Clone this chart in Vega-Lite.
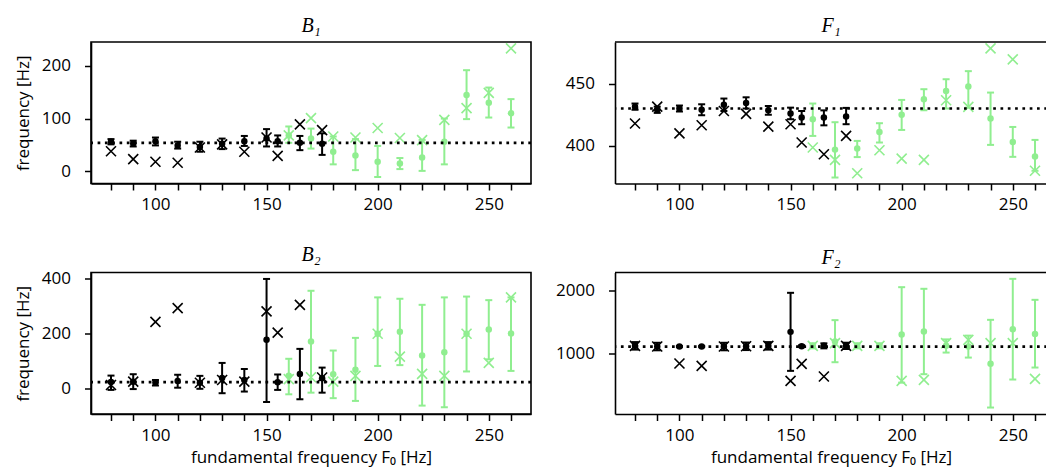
{
  "$schema": "https://vega.github.io/schema/vega-lite/v6.json",
  "background": "#ffffff",
  "padding": {"left": 13, "top": 15, "right": 0, "bottom": 0},
  "datasets": {
    "pts": [
      {"panel":"B1","f0":80,"grp":"k","mean":56,"lo":51,"hi":61,"cross":38},
      {"panel":"B1","f0":90,"grp":"k","mean":52.5,"lo":47,"hi":58,"cross":23},
      {"panel":"B1","f0":100,"grp":"k","mean":57,"lo":49,"hi":64,"cross":18},
      {"panel":"B1","f0":110,"grp":"k","mean":49,"lo":43,"hi":56,"cross":16},
      {"panel":"B1","f0":120,"grp":"k","mean":46,"lo":37,"hi":56,"cross":45},
      {"panel":"B1","f0":130,"grp":"k","mean":52,"lo":42,"hi":62,"cross":51},
      {"panel":"B1","f0":140,"grp":"k","mean":57,"lo":48,"hi":67,"cross":37},
      {"panel":"B1","f0":150,"grp":"k","mean":62,"lo":47,"hi":80,"cross":64},
      {"panel":"B1","f0":155,"grp":"k","mean":57,"lo":47,"hi":68,"cross":29},
      {"panel":"B1","f0":160,"grp":"g","mean":68,"lo":54,"hi":85,"cross":68},
      {"panel":"B1","f0":165,"grp":"k","mean":54,"lo":40,"hi":67,"cross":89},
      {"panel":"B1","f0":170,"grp":"g","mean":62,"lo":43,"hi":81,"cross":101},
      {"panel":"B1","f0":175,"grp":"k","mean":52,"lo":31,"hi":72,"cross":78},
      {"panel":"B1","f0":180,"grp":"g","mean":37,"lo":13,"hi":66,"cross":66},
      {"panel":"B1","f0":190,"grp":"g","mean":30,"lo":2,"hi":61,"cross":64},
      {"panel":"B1","f0":200,"grp":"g","mean":18,"lo":-11,"hi":48,"cross":82},
      {"panel":"B1","f0":210,"grp":"g","mean":14.6,"lo":4,"hi":25,"cross":63},
      {"panel":"B1","f0":220,"grp":"g","mean":26,"lo":0.6,"hi":59.5,"cross":59},
      {"panel":"B1","f0":230,"grp":"g","mean":56,"lo":13,"hi":100,"cross":97.5},
      {"panel":"B1","f0":240,"grp":"g","mean":145,"lo":99,"hi":192,"cross":120},
      {"panel":"B1","f0":250,"grp":"g","mean":130,"lo":102,"hi":159,"cross":149},
      {"panel":"B1","f0":260,"grp":"g","mean":110,"lo":83,"hi":137,"cross":233.5},

      {"panel":"F1","f0":80,"grp":"k","mean":431.5,"lo":429,"hi":434,"cross":418},
      {"panel":"F1","f0":90,"grp":"k","mean":429,"lo":426.5,"hi":431.5,"cross":431.5},
      {"panel":"F1","f0":100,"grp":"k","mean":430,"lo":427.6,"hi":432.4,"cross":410},
      {"panel":"F1","f0":110,"grp":"k","mean":429,"lo":424.6,"hi":433.4,"cross":416.6},
      {"panel":"F1","f0":120,"grp":"k","mean":433,"lo":428,"hi":438,"cross":428},
      {"panel":"F1","f0":130,"grp":"k","mean":434.5,"lo":430,"hi":439,"cross":425.7},
      {"panel":"F1","f0":140,"grp":"k","mean":428.6,"lo":425,"hi":432,"cross":415.5},
      {"panel":"F1","f0":150,"grp":"k","mean":426,"lo":421.4,"hi":430.7,"cross":417.4},
      {"panel":"F1","f0":155,"grp":"k","mean":422.7,"lo":417.4,"hi":428,"cross":402.7},
      {"panel":"F1","f0":160,"grp":"g","mean":421.4,"lo":408,"hi":434,"cross":398.7},
      {"panel":"F1","f0":165,"grp":"k","mean":422.7,"lo":416.5,"hi":428.5,"cross":393.3},
      {"panel":"F1","f0":170,"grp":"g","mean":397,"lo":374.6,"hi":419,"cross":388.8},
      {"panel":"F1","f0":175,"grp":"k","mean":423.5,"lo":417.4,"hi":430.5,"cross":408},
      {"panel":"F1","f0":180,"grp":"g","mean":397.9,"lo":391,"hi":404,"cross":378},
      {"panel":"F1","f0":190,"grp":"g","mean":411.2,"lo":402.7,"hi":418.2,"cross":396.5},
      {"panel":"F1","f0":200,"grp":"g","mean":425,"lo":412.8,"hi":436.9,"cross":389.8},
      {"panel":"F1","f0":210,"grp":"g","mean":437.4,"lo":428.6,"hi":445.5,"cross":388.8},
      {"panel":"F1","f0":220,"grp":"g","mean":444,"lo":430,"hi":453.5,"cross":436.6},
      {"panel":"F1","f0":230,"grp":"g","mean":447.6,"lo":430.7,"hi":460,"cross":431.3},
      {"panel":"F1","f0":240,"grp":"g","mean":422,"lo":400.8,"hi":442.8,"cross":478.3},
      {"panel":"F1","f0":250,"grp":"g","mean":403.2,"lo":391.2,"hi":415.2,"cross":469.5},
      {"panel":"F1","f0":260,"grp":"g","mean":391.4,"lo":380,"hi":404.8,"cross":380},

      {"panel":"B2","f0":80,"grp":"k","mean":23,"lo":-6,"hi":46,"cross":12},
      {"panel":"B2","f0":90,"grp":"k","mean":24,"lo":-3,"hi":51,"cross":24},
      {"panel":"B2","f0":100,"grp":"k","mean":20.6,"lo":10,"hi":30,"cross":241},
      {"panel":"B2","f0":110,"grp":"k","mean":26.7,"lo":2,"hi":49,"cross":291},
      {"panel":"B2","f0":120,"grp":"k","mean":20,"lo":-2,"hi":45,"cross":20},
      {"panel":"B2","f0":130,"grp":"k","mean":37,"lo":-18,"hi":92,"cross":30},
      {"panel":"B2","f0":140,"grp":"k","mean":30,"lo":-12,"hi":70,"cross":24},
      {"panel":"B2","f0":150,"grp":"k","mean":176,"lo":-50,"hi":397,"cross":279},
      {"panel":"B2","f0":155,"grp":"k","mean":22,"lo":-6,"hi":50,"cross":202},
      {"panel":"B2","f0":160,"grp":"g","mean":45,"lo":-22,"hi":107,"cross":33},
      {"panel":"B2","f0":165,"grp":"k","mean":52,"lo":-40,"hi":143,"cross":303},
      {"panel":"B2","f0":170,"grp":"g","mean":170,"lo":-16,"hi":354,"cross":40},
      {"panel":"B2","f0":175,"grp":"k","mean":36,"lo":-16,"hi":75,"cross":39},
      {"panel":"B2","f0":180,"grp":"g","mean":51,"lo":-36,"hi":137,"cross":24},
      {"panel":"B2","f0":190,"grp":"g","mean":67,"lo":-46,"hi":183,"cross":45},
      {"panel":"B2","f0":200,"grp":"g","mean":198,"lo":81,"hi":330,"cross":198},
      {"panel":"B2","f0":210,"grp":"g","mean":205,"lo":84,"hi":325,"cross":115},
      {"panel":"B2","f0":220,"grp":"g","mean":119,"lo":-63,"hi":303,"cross":52},
      {"panel":"B2","f0":230,"grp":"g","mean":131,"lo":-69,"hi":330,"cross":45},
      {"panel":"B2","f0":240,"grp":"g","mean":198,"lo":61,"hi":333,"cross":198},
      {"panel":"B2","f0":250,"grp":"g","mean":213,"lo":105,"hi":320,"cross":92},
      {"panel":"B2","f0":260,"grp":"g","mean":199,"lo":63,"hi":330,"cross":330},

      {"panel":"F2","f0":80,"grp":"k","mean":1117,"lo":1057,"hi":1177,"cross":1117},
      {"panel":"F2","f0":90,"grp":"k","mean":1106,"lo":1046,"hi":1166,"cross":1106},
      {"panel":"F2","f0":100,"grp":"k","mean":1106,"lo":1096,"hi":1116,"cross":835},
      {"panel":"F2","f0":110,"grp":"k","mean":1106,"lo":1096,"hi":1116,"cross":798},
      {"panel":"F2","f0":120,"grp":"k","mean":1106,"lo":1046,"hi":1166,"cross":1106},
      {"panel":"F2","f0":130,"grp":"k","mean":1110,"lo":1050,"hi":1170,"cross":1110},
      {"panel":"F2","f0":140,"grp":"k","mean":1117,"lo":1057,"hi":1177,"cross":1117},
      {"panel":"F2","f0":150,"grp":"k","mean":1340,"lo":718,"hi":1963,"cross":558},
      {"panel":"F2","f0":155,"grp":"k","mean":1112,"lo":1097,"hi":1127,"cross":830},
      {"panel":"F2","f0":160,"grp":"g","mean":1117,"lo":1077,"hi":1157,"cross":1117},
      {"panel":"F2","f0":165,"grp":"k","mean":1117,"lo":1077,"hi":1157,"cross":628},
      {"panel":"F2","f0":170,"grp":"g","mean":1186,"lo":856,"hi":1527,"cross":1160},
      {"panel":"F2","f0":175,"grp":"k","mean":1117,"lo":1067,"hi":1167,"cross":1117},
      {"panel":"F2","f0":180,"grp":"g","mean":1117,"lo":1077,"hi":1157,"cross":1117},
      {"panel":"F2","f0":190,"grp":"g","mean":1117,"lo":1077,"hi":1157,"cross":1117},
      {"panel":"F2","f0":200,"grp":"g","mean":1298,"lo":530,"hi":2053,"cross":558},
      {"panel":"F2","f0":210,"grp":"g","mean":1346,"lo":665,"hi":2027,"cross":574},
      {"panel":"F2","f0":220,"grp":"g","mean":1117,"lo":1010,"hi":1220,"cross":1160},
      {"panel":"F2","f0":230,"grp":"g","mean":1106,"lo":930,"hi":1280,"cross":1213},
      {"panel":"F2","f0":240,"grp":"g","mean":830,"lo":133,"hi":1532,"cross":1160},
      {"panel":"F2","f0":250,"grp":"g","mean":1383,"lo":580,"hi":2186,"cross":1160},
      {"panel":"F2","f0":260,"grp":"g","mean":1308,"lo":771,"hi":1851,"cross":590}
    ],
    "refs": [
      {"panel":"B1","ref":54,"top":245.6},
      {"panel":"F1","ref":430,"top":483.4},
      {"panel":"B2","ref":22,"top":420.4},
      {"panel":"F2","ref":1106,"top":2287}
    ]
  },
  "columns": 2,
  "spacing": {"row": 88.5, "column": 84},
  "bounds": "flush",
  "concat": [
    {
      "width": 440, "height": 141.5,
      "title": "B₁",
      "layer": [
        {"data": {"name": "pts"}, "transform": [{"filter": {"field": "panel", "equal": "B1"}}],
         "mark": {"type": "rule", "strokeWidth": 2},
         "encoding": {
           "x": {"field": "f0", "type": "quantitative", "scale": {"domain": [71, 269], "nice": false, "zero": false}, "axis": {"values": [80,90,100,110,120,130,140,150,160,170,180,190,200,210,220,230,240,250,260], "labelExpr": "datum.value % 50 === 0 ? datum.label : ''", "format": "d", "title": null}},
           "y": {"field": "lo", "type": "quantitative", "scale": {"domain": [-23.4, 245.6], "nice": false, "zero": false}, "axis": {"values": [0,100,200], "format": "d", "title": "frequency [Hz]"}},
           "y2": {"field": "hi"},
           "color": {"field": "grp", "type": "nominal", "scale": {"domain": ["k","g"], "range": ["#000000","#90ee90"]}, "legend": null}}},
        {"data": {"name": "pts"}, "transform": [{"filter": {"field": "panel", "equal": "B1"}}],
         "mark": {"type": "tick", "orient": "horizontal", "size": 7, "thickness": 2, "opacity": 1},
         "encoding": {
           "x": {"field": "f0", "type": "quantitative", "scale": {"domain": [71, 269], "nice": false, "zero": false}, "axis": {"values": [80,90,100,110,120,130,140,150,160,170,180,190,200,210,220,230,240,250,260], "labelExpr": "datum.value % 50 === 0 ? datum.label : ''", "format": "d", "title": null}},
           "y": {"field": "lo", "type": "quantitative", "scale": {"domain": [-23.4, 245.6], "nice": false, "zero": false}, "axis": {"values": [0,100,200], "format": "d", "title": "frequency [Hz]"}},
           "color": {"field": "grp", "type": "nominal", "scale": {"domain": ["k","g"], "range": ["#000000","#90ee90"]}, "legend": null}}},
        {"data": {"name": "pts"}, "transform": [{"filter": {"field": "panel", "equal": "B1"}}],
         "mark": {"type": "tick", "orient": "horizontal", "size": 7, "thickness": 2, "opacity": 1},
         "encoding": {
           "x": {"field": "f0", "type": "quantitative", "scale": {"domain": [71, 269], "nice": false, "zero": false}, "axis": {"values": [80,90,100,110,120,130,140,150,160,170,180,190,200,210,220,230,240,250,260], "labelExpr": "datum.value % 50 === 0 ? datum.label : ''", "format": "d", "title": null}},
           "y": {"field": "hi", "type": "quantitative", "scale": {"domain": [-23.4, 245.6], "nice": false, "zero": false}, "axis": {"values": [0,100,200], "format": "d", "title": "frequency [Hz]"}},
           "color": {"field": "grp", "type": "nominal", "scale": {"domain": ["k","g"], "range": ["#000000","#90ee90"]}, "legend": null}}},
        {"data": {"name": "pts"}, "transform": [{"filter": {"field": "panel", "equal": "B1"}}],
         "mark": {"type": "point", "shape": "circle", "filled": true, "size": 42, "opacity": 1},
         "encoding": {
           "x": {"field": "f0", "type": "quantitative", "scale": {"domain": [71, 269], "nice": false, "zero": false}, "axis": {"values": [80,90,100,110,120,130,140,150,160,170,180,190,200,210,220,230,240,250,260], "labelExpr": "datum.value % 50 === 0 ? datum.label : ''", "format": "d", "title": null}},
           "y": {"field": "mean", "type": "quantitative", "scale": {"domain": [-23.4, 245.6], "nice": false, "zero": false}, "axis": {"values": [0,100,200], "format": "d", "title": "frequency [Hz]"}},
           "color": {"field": "grp", "type": "nominal", "scale": {"domain": ["k","g"], "range": ["#000000","#90ee90"]}, "legend": null}}},
        {"data": {"name": "pts"}, "transform": [{"filter": {"field": "panel", "equal": "B1"}}],
         "mark": {"type": "point", "shape": "M-1,-1L1,1M-1,1L1,-1", "filled": false, "size": 100, "strokeWidth": 1.6, "opacity": 1},
         "encoding": {
           "x": {"field": "f0", "type": "quantitative", "scale": {"domain": [71, 269], "nice": false, "zero": false}, "axis": {"values": [80,90,100,110,120,130,140,150,160,170,180,190,200,210,220,230,240,250,260], "labelExpr": "datum.value % 50 === 0 ? datum.label : ''", "format": "d", "title": null}},
           "y": {"field": "cross", "type": "quantitative", "scale": {"domain": [-23.4, 245.6], "nice": false, "zero": false}, "axis": {"values": [0,100,200], "format": "d", "title": "frequency [Hz]"}},
           "color": {"field": "grp", "type": "nominal", "scale": {"domain": ["k","g"], "range": ["#000000","#90ee90"]}, "legend": null}}},
        {"data": {"name": "refs"}, "transform": [{"filter": {"field": "panel", "equal": "B1"}}],
         "mark": {"type": "rule", "color": "#000000", "strokeWidth": 2.7, "strokeDash": [2.7, 4.6]},
         "encoding": {
           "y": {"field": "ref", "type": "quantitative", "scale": {"domain": [-23.4, 245.6], "nice": false, "zero": false}, "axis": {"values": [0,100,200], "format": "d", "title": "frequency [Hz]"}}}}
      ]
    },
    {
      "width": 432, "height": 141.5,
      "title": "F₁",
      "view": {"stroke": null},
      "layer": [
        {"data": {"name": "pts"}, "transform": [{"filter": {"field": "panel", "equal": "F1"}}],
         "mark": {"type": "rule", "strokeWidth": 2},
         "encoding": {
           "x": {"field": "f0", "type": "quantitative", "scale": {"domain": [71, 265.4], "nice": false, "zero": false}, "axis": {"values": [80,90,100,110,120,130,140,150,160,170,180,190,200,210,220,230,240,250,260], "labelExpr": "datum.value % 50 === 0 ? datum.label : ''", "format": "d", "title": null}},
           "y": {"field": "lo", "type": "quantitative", "scale": {"domain": [369.8, 483.4], "nice": false, "zero": false}, "axis": {"values": [400,450], "format": "d", "title": null}},
           "y2": {"field": "hi"},
           "color": {"field": "grp", "type": "nominal", "scale": {"domain": ["k","g"], "range": ["#000000","#90ee90"]}, "legend": null}}},
        {"data": {"name": "pts"}, "transform": [{"filter": {"field": "panel", "equal": "F1"}}],
         "mark": {"type": "tick", "orient": "horizontal", "size": 7, "thickness": 2, "opacity": 1},
         "encoding": {
           "x": {"field": "f0", "type": "quantitative", "scale": {"domain": [71, 265.4], "nice": false, "zero": false}, "axis": {"values": [80,90,100,110,120,130,140,150,160,170,180,190,200,210,220,230,240,250,260], "labelExpr": "datum.value % 50 === 0 ? datum.label : ''", "format": "d", "title": null}},
           "y": {"field": "lo", "type": "quantitative", "scale": {"domain": [369.8, 483.4], "nice": false, "zero": false}, "axis": {"values": [400,450], "format": "d", "title": null}},
           "color": {"field": "grp", "type": "nominal", "scale": {"domain": ["k","g"], "range": ["#000000","#90ee90"]}, "legend": null}}},
        {"data": {"name": "pts"}, "transform": [{"filter": {"field": "panel", "equal": "F1"}}],
         "mark": {"type": "tick", "orient": "horizontal", "size": 7, "thickness": 2, "opacity": 1},
         "encoding": {
           "x": {"field": "f0", "type": "quantitative", "scale": {"domain": [71, 265.4], "nice": false, "zero": false}, "axis": {"values": [80,90,100,110,120,130,140,150,160,170,180,190,200,210,220,230,240,250,260], "labelExpr": "datum.value % 50 === 0 ? datum.label : ''", "format": "d", "title": null}},
           "y": {"field": "hi", "type": "quantitative", "scale": {"domain": [369.8, 483.4], "nice": false, "zero": false}, "axis": {"values": [400,450], "format": "d", "title": null}},
           "color": {"field": "grp", "type": "nominal", "scale": {"domain": ["k","g"], "range": ["#000000","#90ee90"]}, "legend": null}}},
        {"data": {"name": "pts"}, "transform": [{"filter": {"field": "panel", "equal": "F1"}}],
         "mark": {"type": "point", "shape": "circle", "filled": true, "size": 42, "opacity": 1},
         "encoding": {
           "x": {"field": "f0", "type": "quantitative", "scale": {"domain": [71, 265.4], "nice": false, "zero": false}, "axis": {"values": [80,90,100,110,120,130,140,150,160,170,180,190,200,210,220,230,240,250,260], "labelExpr": "datum.value % 50 === 0 ? datum.label : ''", "format": "d", "title": null}},
           "y": {"field": "mean", "type": "quantitative", "scale": {"domain": [369.8, 483.4], "nice": false, "zero": false}, "axis": {"values": [400,450], "format": "d", "title": null}},
           "color": {"field": "grp", "type": "nominal", "scale": {"domain": ["k","g"], "range": ["#000000","#90ee90"]}, "legend": null}}},
        {"data": {"name": "pts"}, "transform": [{"filter": {"field": "panel", "equal": "F1"}}],
         "mark": {"type": "point", "shape": "M-1,-1L1,1M-1,1L1,-1", "filled": false, "size": 100, "strokeWidth": 1.6, "opacity": 1},
         "encoding": {
           "x": {"field": "f0", "type": "quantitative", "scale": {"domain": [71, 265.4], "nice": false, "zero": false}, "axis": {"values": [80,90,100,110,120,130,140,150,160,170,180,190,200,210,220,230,240,250,260], "labelExpr": "datum.value % 50 === 0 ? datum.label : ''", "format": "d", "title": null}},
           "y": {"field": "cross", "type": "quantitative", "scale": {"domain": [369.8, 483.4], "nice": false, "zero": false}, "axis": {"values": [400,450], "format": "d", "title": null}},
           "color": {"field": "grp", "type": "nominal", "scale": {"domain": ["k","g"], "range": ["#000000","#90ee90"]}, "legend": null}}},
        {"data": {"name": "refs"}, "transform": [{"filter": {"field": "panel", "equal": "F1"}}],
         "mark": {"type": "rule", "color": "#000000", "strokeWidth": 2.7, "strokeDash": [2.7, 4.6]},
         "encoding": {
           "y": {"field": "ref", "type": "quantitative", "scale": {"domain": [369.8, 483.4], "nice": false, "zero": false}, "axis": {"values": [400,450], "format": "d", "title": null}}}},
        {"data": {"name": "refs"}, "transform": [{"filter": {"field": "panel", "equal": "F1"}}],
         "mark": {"type": "rule", "color": "#000000", "strokeWidth": 1.6},
         "encoding": {
           "y": {"field": "top", "type": "quantitative", "scale": {"domain": [369.8, 483.4], "nice": false, "zero": false}, "axis": {"values": [400,450], "format": "d", "title": null}}}}
      ]
    },
    {
      "width": 440, "height": 141.5,
      "title": "B₂",
      "layer": [
        {"data": {"name": "pts"}, "transform": [{"filter": {"field": "panel", "equal": "B2"}}],
         "mark": {"type": "rule", "strokeWidth": 2},
         "encoding": {
           "x": {"field": "f0", "type": "quantitative", "scale": {"domain": [71, 269], "nice": false, "zero": false}, "axis": {"values": [80,90,100,110,120,130,140,150,160,170,180,190,200,210,220,230,240,250,260], "labelExpr": "datum.value % 50 === 0 ? datum.label : ''", "format": "d", "title": "fundamental frequency F₀ [Hz]"}},
           "y": {"field": "lo", "type": "quantitative", "scale": {"domain": [-93.5, 420.4], "nice": false, "zero": false}, "axis": {"values": [0,200,400], "format": "d", "title": "frequency [Hz]"}},
           "y2": {"field": "hi"},
           "color": {"field": "grp", "type": "nominal", "scale": {"domain": ["k","g"], "range": ["#000000","#90ee90"]}, "legend": null}}},
        {"data": {"name": "pts"}, "transform": [{"filter": {"field": "panel", "equal": "B2"}}],
         "mark": {"type": "tick", "orient": "horizontal", "size": 7, "thickness": 2, "opacity": 1},
         "encoding": {
           "x": {"field": "f0", "type": "quantitative", "scale": {"domain": [71, 269], "nice": false, "zero": false}, "axis": {"values": [80,90,100,110,120,130,140,150,160,170,180,190,200,210,220,230,240,250,260], "labelExpr": "datum.value % 50 === 0 ? datum.label : ''", "format": "d", "title": "fundamental frequency F₀ [Hz]"}},
           "y": {"field": "lo", "type": "quantitative", "scale": {"domain": [-93.5, 420.4], "nice": false, "zero": false}, "axis": {"values": [0,200,400], "format": "d", "title": "frequency [Hz]"}},
           "color": {"field": "grp", "type": "nominal", "scale": {"domain": ["k","g"], "range": ["#000000","#90ee90"]}, "legend": null}}},
        {"data": {"name": "pts"}, "transform": [{"filter": {"field": "panel", "equal": "B2"}}],
         "mark": {"type": "tick", "orient": "horizontal", "size": 7, "thickness": 2, "opacity": 1},
         "encoding": {
           "x": {"field": "f0", "type": "quantitative", "scale": {"domain": [71, 269], "nice": false, "zero": false}, "axis": {"values": [80,90,100,110,120,130,140,150,160,170,180,190,200,210,220,230,240,250,260], "labelExpr": "datum.value % 50 === 0 ? datum.label : ''", "format": "d", "title": "fundamental frequency F₀ [Hz]"}},
           "y": {"field": "hi", "type": "quantitative", "scale": {"domain": [-93.5, 420.4], "nice": false, "zero": false}, "axis": {"values": [0,200,400], "format": "d", "title": "frequency [Hz]"}},
           "color": {"field": "grp", "type": "nominal", "scale": {"domain": ["k","g"], "range": ["#000000","#90ee90"]}, "legend": null}}},
        {"data": {"name": "pts"}, "transform": [{"filter": {"field": "panel", "equal": "B2"}}],
         "mark": {"type": "point", "shape": "circle", "filled": true, "size": 42, "opacity": 1},
         "encoding": {
           "x": {"field": "f0", "type": "quantitative", "scale": {"domain": [71, 269], "nice": false, "zero": false}, "axis": {"values": [80,90,100,110,120,130,140,150,160,170,180,190,200,210,220,230,240,250,260], "labelExpr": "datum.value % 50 === 0 ? datum.label : ''", "format": "d", "title": "fundamental frequency F₀ [Hz]"}},
           "y": {"field": "mean", "type": "quantitative", "scale": {"domain": [-93.5, 420.4], "nice": false, "zero": false}, "axis": {"values": [0,200,400], "format": "d", "title": "frequency [Hz]"}},
           "color": {"field": "grp", "type": "nominal", "scale": {"domain": ["k","g"], "range": ["#000000","#90ee90"]}, "legend": null}}},
        {"data": {"name": "pts"}, "transform": [{"filter": {"field": "panel", "equal": "B2"}}],
         "mark": {"type": "point", "shape": "M-1,-1L1,1M-1,1L1,-1", "filled": false, "size": 100, "strokeWidth": 1.6, "opacity": 1},
         "encoding": {
           "x": {"field": "f0", "type": "quantitative", "scale": {"domain": [71, 269], "nice": false, "zero": false}, "axis": {"values": [80,90,100,110,120,130,140,150,160,170,180,190,200,210,220,230,240,250,260], "labelExpr": "datum.value % 50 === 0 ? datum.label : ''", "format": "d", "title": "fundamental frequency F₀ [Hz]"}},
           "y": {"field": "cross", "type": "quantitative", "scale": {"domain": [-93.5, 420.4], "nice": false, "zero": false}, "axis": {"values": [0,200,400], "format": "d", "title": "frequency [Hz]"}},
           "color": {"field": "grp", "type": "nominal", "scale": {"domain": ["k","g"], "range": ["#000000","#90ee90"]}, "legend": null}}},
        {"data": {"name": "refs"}, "transform": [{"filter": {"field": "panel", "equal": "B2"}}],
         "mark": {"type": "rule", "color": "#000000", "strokeWidth": 2.7, "strokeDash": [2.7, 4.6]},
         "encoding": {
           "y": {"field": "ref", "type": "quantitative", "scale": {"domain": [-93.5, 420.4], "nice": false, "zero": false}, "axis": {"values": [0,200,400], "format": "d", "title": "frequency [Hz]"}}}}
      ]
    },
    {
      "width": 432, "height": 141.5,
      "title": "F₂",
      "view": {"stroke": null},
      "layer": [
        {"data": {"name": "pts"}, "transform": [{"filter": {"field": "panel", "equal": "F2"}}],
         "mark": {"type": "rule", "strokeWidth": 2},
         "encoding": {
           "x": {"field": "f0", "type": "quantitative", "scale": {"domain": [71, 265.4], "nice": false, "zero": false}, "axis": {"values": [80,90,100,110,120,130,140,150,160,170,180,190,200,210,220,230,240,250,260], "labelExpr": "datum.value % 50 === 0 ? datum.label : ''", "format": "d", "title": "fundamental frequency F₀ [Hz]"}},
           "y": {"field": "lo", "type": "quantitative", "scale": {"domain": [30, 2287], "nice": false, "zero": false}, "axis": {"values": [1000,2000], "format": "d", "title": null}},
           "y2": {"field": "hi"},
           "color": {"field": "grp", "type": "nominal", "scale": {"domain": ["k","g"], "range": ["#000000","#90ee90"]}, "legend": null}}},
        {"data": {"name": "pts"}, "transform": [{"filter": {"field": "panel", "equal": "F2"}}],
         "mark": {"type": "tick", "orient": "horizontal", "size": 7, "thickness": 2, "opacity": 1},
         "encoding": {
           "x": {"field": "f0", "type": "quantitative", "scale": {"domain": [71, 265.4], "nice": false, "zero": false}, "axis": {"values": [80,90,100,110,120,130,140,150,160,170,180,190,200,210,220,230,240,250,260], "labelExpr": "datum.value % 50 === 0 ? datum.label : ''", "format": "d", "title": "fundamental frequency F₀ [Hz]"}},
           "y": {"field": "lo", "type": "quantitative", "scale": {"domain": [30, 2287], "nice": false, "zero": false}, "axis": {"values": [1000,2000], "format": "d", "title": null}},
           "color": {"field": "grp", "type": "nominal", "scale": {"domain": ["k","g"], "range": ["#000000","#90ee90"]}, "legend": null}}},
        {"data": {"name": "pts"}, "transform": [{"filter": {"field": "panel", "equal": "F2"}}],
         "mark": {"type": "tick", "orient": "horizontal", "size": 7, "thickness": 2, "opacity": 1},
         "encoding": {
           "x": {"field": "f0", "type": "quantitative", "scale": {"domain": [71, 265.4], "nice": false, "zero": false}, "axis": {"values": [80,90,100,110,120,130,140,150,160,170,180,190,200,210,220,230,240,250,260], "labelExpr": "datum.value % 50 === 0 ? datum.label : ''", "format": "d", "title": "fundamental frequency F₀ [Hz]"}},
           "y": {"field": "hi", "type": "quantitative", "scale": {"domain": [30, 2287], "nice": false, "zero": false}, "axis": {"values": [1000,2000], "format": "d", "title": null}},
           "color": {"field": "grp", "type": "nominal", "scale": {"domain": ["k","g"], "range": ["#000000","#90ee90"]}, "legend": null}}},
        {"data": {"name": "pts"}, "transform": [{"filter": {"field": "panel", "equal": "F2"}}],
         "mark": {"type": "point", "shape": "circle", "filled": true, "size": 42, "opacity": 1},
         "encoding": {
           "x": {"field": "f0", "type": "quantitative", "scale": {"domain": [71, 265.4], "nice": false, "zero": false}, "axis": {"values": [80,90,100,110,120,130,140,150,160,170,180,190,200,210,220,230,240,250,260], "labelExpr": "datum.value % 50 === 0 ? datum.label : ''", "format": "d", "title": "fundamental frequency F₀ [Hz]"}},
           "y": {"field": "mean", "type": "quantitative", "scale": {"domain": [30, 2287], "nice": false, "zero": false}, "axis": {"values": [1000,2000], "format": "d", "title": null}},
           "color": {"field": "grp", "type": "nominal", "scale": {"domain": ["k","g"], "range": ["#000000","#90ee90"]}, "legend": null}}},
        {"data": {"name": "pts"}, "transform": [{"filter": {"field": "panel", "equal": "F2"}}],
         "mark": {"type": "point", "shape": "M-1,-1L1,1M-1,1L1,-1", "filled": false, "size": 100, "strokeWidth": 1.6, "opacity": 1},
         "encoding": {
           "x": {"field": "f0", "type": "quantitative", "scale": {"domain": [71, 265.4], "nice": false, "zero": false}, "axis": {"values": [80,90,100,110,120,130,140,150,160,170,180,190,200,210,220,230,240,250,260], "labelExpr": "datum.value % 50 === 0 ? datum.label : ''", "format": "d", "title": "fundamental frequency F₀ [Hz]"}},
           "y": {"field": "cross", "type": "quantitative", "scale": {"domain": [30, 2287], "nice": false, "zero": false}, "axis": {"values": [1000,2000], "format": "d", "title": null}},
           "color": {"field": "grp", "type": "nominal", "scale": {"domain": ["k","g"], "range": ["#000000","#90ee90"]}, "legend": null}}},
        {"data": {"name": "refs"}, "transform": [{"filter": {"field": "panel", "equal": "F2"}}],
         "mark": {"type": "rule", "color": "#000000", "strokeWidth": 2.7, "strokeDash": [2.7, 4.6]},
         "encoding": {
           "y": {"field": "ref", "type": "quantitative", "scale": {"domain": [30, 2287], "nice": false, "zero": false}, "axis": {"values": [1000,2000], "format": "d", "title": null}}}},
        {"data": {"name": "refs"}, "transform": [{"filter": {"field": "panel", "equal": "F2"}}],
         "mark": {"type": "rule", "color": "#000000", "strokeWidth": 1.6},
         "encoding": {
           "y": {"field": "top", "type": "quantitative", "scale": {"domain": [30, 2287], "nice": false, "zero": false}, "axis": {"values": [1000,2000], "format": "d", "title": null}}}}
      ]
    }
  ],
  "config": {
    "font": "Open Sans",
    "view": {"stroke": "#000000", "strokeWidth": 1.6},
    "axis": {"domain": true, "domainColor": "#000000", "domainWidth": 1.6, "grid": false, "ticks": true, "tickColor": "#000000", "tickWidth": 1.5, "tickSize": 6.5,
             "labelFont": "Open Sans", "labelFontSize": 17, "labelColor": "#000000", "labelOverlap": false, "labelFlush": false,
             "titleFont": "Open Sans", "titleFontSize": 17, "titleFontWeight": "normal", "titleColor": "#000000"},
    "axisX": {"labelPadding": 6.5, "titlePadding": 6.5},
    "axisY": {"labelPadding": 14, "titlePadding": 9, "domain": true},
    "title": {"font": "Liberation Serif", "fontStyle": "italic", "fontSize": 20, "fontWeight": "normal", "color": "#000000", "offset": 4, "baseline": "alphabetic", "anchor": "middle", "frame": "group"}
  }
}
